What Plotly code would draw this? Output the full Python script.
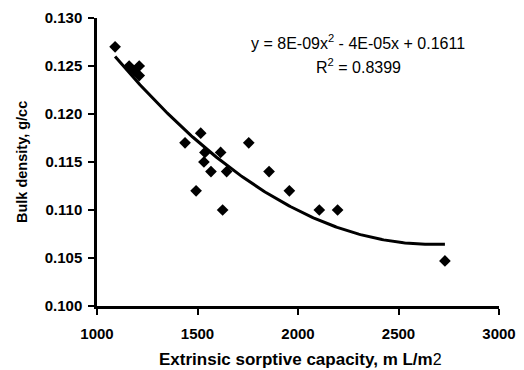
import numpy as np
import plotly.graph_objects as go

capacity = [1090, 1160, 1210, 1185, 1210, 1438, 1516, 1537, 1532, 1567, 1493,
            1615, 1645, 1625, 1755, 1856, 1957, 2106, 2197, 2731]
density = [0.127, 0.125, 0.125, 0.1245, 0.124, 0.117, 0.118, 0.116, 0.115, 0.114, 0.112,
           0.116, 0.114, 0.110, 0.117, 0.114, 0.112, 0.110, 0.110, 0.1047]
x_ticks = [1000, 1500, 2000, 2500, 3000]
y_ticks = [0.100, 0.105, 0.110, 0.115, 0.120, 0.125, 0.130]

coef = np.polyfit(capacity, density, 2)
xs = np.linspace(min(capacity), max(capacity), 200)
ys = np.polyval(coef, xs)

fig = go.Figure()
fig.add_trace(go.Scatter(x=xs, y=ys, mode="lines", line=dict(color="black", width=3),
                         hoverinfo="skip", showlegend=False))
fig.add_trace(go.Scatter(x=capacity, y=density, mode="markers",
                         marker=dict(symbol="diamond", size=9, color="black"),
                         showlegend=False))

FAM = "Liberation Sans, Arial"
tick_font = dict(family=FAM, size=15, color="black")
L, R, T, B, W, H = 97, 25, 18, 64, 524, 370
pw, ph = W - L - R, H - T - B


def px_x(p):
    return (p - L) / pw


def px_y(p):
    return (H - B - p) / ph


fig.update_layout(
    width=W, height=H,
    margin=dict(l=L, r=R, t=T, b=B, autoexpand=False),
    paper_bgcolor="white", plot_bgcolor="white",
    font=dict(family=FAM, size=15, color="black"),
    xaxis=dict(range=[1000, 3000], tickvals=x_ticks,
               ticktext=[f"<b>{v}</b>" for v in x_ticks], tickfont=tick_font,
               showline=True, linecolor="black", linewidth=2.5,
               ticks="outside", ticklen=6, tickwidth=2, tickcolor="black",
               ticklabelstandoff=6, automargin=False,
               showgrid=False, zeroline=False),
    yaxis=dict(range=[0.100, 0.130], tickvals=y_ticks,
               ticktext=[f"<b>{v:.3f}</b>" for v in y_ticks], tickfont=tick_font,
               showline=True, linecolor="black", linewidth=2.5,
               ticks="outside", ticklen=6, tickwidth=2, tickcolor="black",
               ticklabelstandoff=3, automargin=False,
               showgrid=False, zeroline=False),
    annotations=[
        dict(x=px_x(300), y=px_y(359), xref="paper", yref="paper", showarrow=False,
             xanchor="center", yanchor="middle",
             text="<b>Extrinsic sorptive capacity, </b><b>m L/m</b><span style='font-size:16px'>2</span>",
             font=dict(family=FAM, size=17, color="black")),
        dict(x=px_x(22), y=px_y(162), xref="paper", yref="paper", showarrow=False,
             xanchor="center", yanchor="middle", textangle=-90,
             text="<b>Bulk density, g/cc</b>",
             font=dict(family=FAM, size=14.5, color="black")),
        dict(x=px_x(358), y=px_y(42), xref="paper", yref="paper", showarrow=False,
             xanchor="center", yanchor="middle",
             text="y = 8E-09x<sup>2</sup> - 4E-05x + 0.1611",
             font=dict(family=FAM, size=16, color="black")),
        dict(x=px_x(358), y=px_y(66), xref="paper", yref="paper", showarrow=False,
             xanchor="center", yanchor="middle",
             text="R<sup>2</sup> = 0.8399",
             font=dict(family=FAM, size=16, color="black")),
    ],
)
fig.write_html("out.html")
